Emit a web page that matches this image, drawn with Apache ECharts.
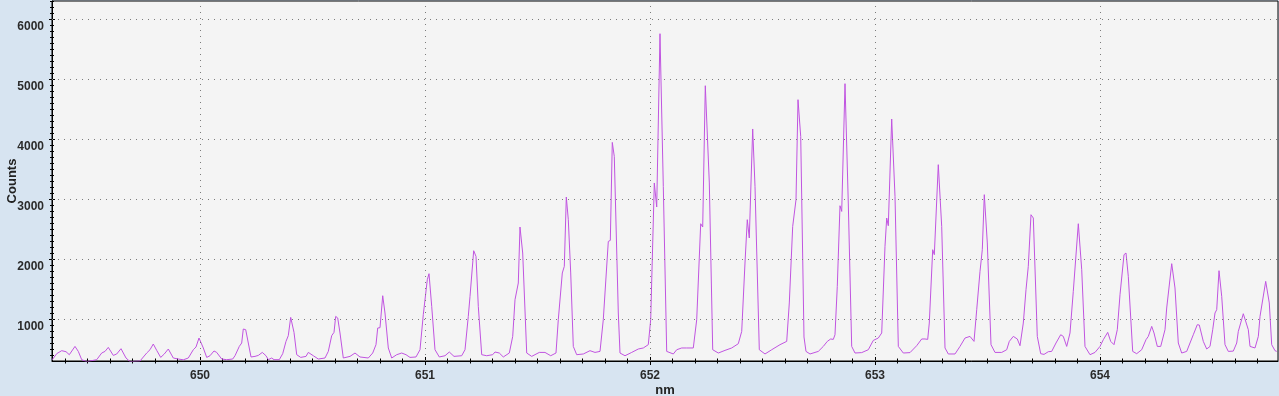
<!DOCTYPE html>
<html>
<head>
<meta charset="utf-8">
<script src="https://cdn.jsdelivr.net/npm/echarts@6/dist/echarts.min.js"></script>
<style>
html,body{margin:0;padding:0;background:#d7e4f1;}
#chart{width:1279px;height:396px;}
</style>
</head>
<body>
<div id="chart"></div>
<script>
// ---- data ----
const wavelengthNm = [
649.343,649.3453,649.3631,649.3853,649.4044,649.4191,649.4444,649.4591,649.4742,649.4964,
649.5409,649.5631,649.5778,649.5924,649.6147,649.6298,649.6489,649.6711,649.6889,649.7333,
649.7631,649.7778,649.7924,649.8076,649.8253,649.8413,649.8591,649.8813,649.9036,649.9258,
649.948,649.9702,649.9822,649.9956,650.0031,650.0147,650.0298,650.0444,650.0622,650.0742,
650.0964,650.1187,650.1453,650.1556,650.1747,650.1853,650.1924,650.2031,650.2147,650.2267,
650.2444,650.2591,650.2769,650.2933,650.3036,650.3187,650.3289,650.3524,650.3676,650.3822,
650.3924,650.4031,650.4178,650.4298,650.4476,650.4711,650.4813,650.5036,650.5258,650.5556,
650.5702,650.5853,650.5956,650.6031,650.612,650.6222,650.6369,650.6667,650.6889,650.7111,
650.748,650.7676,650.7822,650.7898,650.8,650.812,650.8222,650.8369,650.852,650.8742,
650.8964,650.9156,650.9333,650.96,650.9778,650.9924,651.0,651.0102,651.0178,651.0298,
651.0444,651.0636,651.0889,651.108,651.1289,651.1631,651.1778,651.1924,651.2,651.2076,
651.2164,651.2267,651.2369,651.252,651.2742,651.3009,651.3111,651.3302,651.348,651.3747,
651.3898,651.4,651.4147,651.4222,651.4342,651.452,651.4742,651.508,651.5333,651.5587,
651.5822,651.5924,651.6102,651.6191,651.628,651.6369,651.6476,651.6591,651.6742,651.7036,
651.7333,651.7556,651.7778,651.7924,651.8147,651.8236,651.8324,651.8413,651.8591,651.8667,
651.8889,651.9187,651.948,651.9702,651.9924,652.0031,652.0191,652.0298,652.0444,652.0591,
652.0742,652.1036,652.1187,652.1409,652.1631,652.1924,652.2076,652.2253,652.2342,652.2458,
652.2636,652.2787,652.3036,652.3333,652.3631,652.3924,652.4076,652.4222,652.4324,652.4413,
652.4564,652.4667,652.4858,652.5111,652.5409,652.5778,652.6076,652.6191,652.6342,652.6489,
652.6578,652.6698,652.6844,652.6933,652.7111,652.748,652.7702,652.788,652.8031,652.8147,
652.8222,652.8324,652.8444,652.852,652.8667,652.8813,652.8964,652.9111,652.9409,652.9702,
652.9924,653.0147,653.0298,653.0444,653.052,653.0591,653.0742,653.0889,653.1036,653.1258,
653.1556,653.1853,653.2076,653.2222,653.2342,653.2413,653.2564,653.2636,653.2813,653.2964,
653.3111,653.3258,653.3556,653.3778,653.4,653.4222,653.44,653.452,653.4667,653.4769,
653.4858,653.4991,653.5156,653.5333,653.5631,653.5853,653.5969,653.6147,653.6324,653.6444,
653.6591,653.6711,653.6813,653.6933,653.7036,653.7213,653.7364,653.7511,653.7702,653.7853,
653.8044,653.8253,653.8369,653.852,653.8667,653.8813,653.8889,653.9036,653.9187,653.9333,
653.9556,653.9778,654.0,654.0147,654.0342,654.0476,654.0622,654.0769,654.0889,654.0964,
654.1067,654.1156,654.1258,654.1453,654.1631,654.1853,654.2044,654.2147,654.2298,654.24,
654.2547,654.2698,654.2889,654.2964,654.3036,654.3187,654.3333,654.348,654.3631,654.3853,
654.4,654.4147,654.4324,654.4413,654.4591,654.4742,654.4889,654.5009,654.5111,654.5187,
654.5289,654.5409,654.5556,654.5702,654.5924,654.6076,654.6147,654.6222,654.6369,654.6444,
654.6591,654.6667,654.6889,654.7036,654.7111,654.7187,654.7364,654.7524,654.7631,654.7778,
654.7853
];
const counts = [
320,350,422,472,455,405,543,460,322,290,
322,433,460,527,393,417,505,350,290,300,
433,488,583,477,360,417,500,350,333,320,
350,488,533,683,658,517,360,388,467,443,
333,322,333,388,543,600,833,822,600,367,
377,393,443,388,322,350,322,322,422,627,
722,1027,777,405,360,377,443,388,333,350,
460,722,777,1043,1017,767,350,377,433,367,
350,433,572,850,855,1388,1100,517,350,405,
433,405,360,367,488,1072,1100,1655,1755,1210,
488,367,388,450,377,388,488,1043,1377,1377,
2138,2043,1210,405,388,405,450,433,367,433,
710,1322,1600,2533,2100,433,377,443,443,388,
433,988,1767,1877,3033,2655,1767,543,405,417,
472,443,460,988,2293,2310,3943,3710,1100,433,
388,443,500,517,572,988,3267,2867,5755,3210,
460,417,488,517,517,517,988,2588,2533,4888,
3267,488,433,477,517,588,793,1933,2655,2350,
4167,3210,488,417,488,572,627,1267,2543,2988,
4655,4043,700,460,417,460,543,627,667,660,
738,1543,2888,2793,4922,2933,543,433,440,488,
643,683,767,2210,2683,2555,4333,3043,543,433,
440,555,667,667,660,933,2155,2072,3572,2543,
517,417,417,543,683,710,627,1155,1793,2155,
3072,2267,572,443,443,488,627,710,667,555,
933,1488,1877,2738,2683,710,422,410,455,460,
600,738,710,543,767,1460,1488,2588,1822,543,
405,443,543,655,777,627,572,822,1405,1410,
2072,2100,1710,460,422,488,655,710,877,767,
543,543,822,1183,1200,1922,1517,600,433,460,
600,738,905,900,627,500,543,822,1100,1155,
1805,1377,572,460,465,600,793,800,1088,1072,
822,543,517,710,1043,1072,1627,1267,572,472,
460
];
const xMajorTicks = [650, 651, 652, 653, 654];
const yMajorTicks = [1000, 2000, 3000, 4000, 5000, 6000];
const xRange = [649.3422, 654.7911];
const yRange = [300, 6300];

// minor tick positions (0.1 nm and 100 counts)
const xMinorTicks = [];
for (let i = 6494; i <= 6547; i++) xMinorTicks.push(i / 10);
const yMinorTicks = [];
for (let v = 400; v <= 6300; v += 100) yMinorTicks.push(v);

const seriesData = wavelengthNm.map((x, i) => [x, counts[i]]);

const labelFont = { fontFamily: 'Liberation Sans', fontSize: 12, fontWeight: 'bold', color: '#2b2b2b' };
const black = { color: '#000', width: 1 };

function tickAxis(base, ticks, len, inside) {
  return {
    type: 'value', min: base[0], max: base[1],
    axisLine: { show: false },
    axisTick: { show: true, customValues: ticks, length: len, inside: inside, lineStyle: black },
    axisLabel: { show: false },
    splitLine: { show: false }
  };
}

const xAxes = [
  {
    type: 'value', min: xRange[0], max: xRange[1], position: 'bottom',
    axisLine: { show: true, onZero: false, lineStyle: black },
    axisTick: { show: true, customValues: xMajorTicks, length: 4, inside: false, lineStyle: black },
    axisLabel: Object.assign({ customValues: xMajorTicks, margin: 9, formatter: v => String(v) }, labelFont),
    splitLine: { show: false },
    name: 'nm', nameLocation: 'middle', nameGap: 23, nameMoveOverlap: false,
    nameTextStyle: { fontFamily: 'Liberation Sans', fontSize: 13, fontWeight: 'bold', color: '#222' }
  },
  Object.assign(tickAxis(xRange, xMajorTicks, 4, true), { position: 'bottom' }),
  Object.assign(tickAxis(xRange, xMinorTicks, 2.5, false), { position: 'bottom' }),
  Object.assign(tickAxis(xRange, xMinorTicks, 2.5, true), { position: 'bottom' })
];
const yAxes = [
  {
    type: 'value', min: yRange[0], max: yRange[1], position: 'left',
    axisLine: { show: true, onZero: false, lineStyle: black },
    axisTick: { show: true, customValues: yMajorTicks, length: 3, inside: false, lineStyle: black },
    axisLabel: Object.assign({ customValues: yMajorTicks, margin: 8, verticalAlign: 'top', padding: [2, 0, 0, 0], formatter: v => String(v) }, labelFont),
    splitLine: { show: false },
    name: 'Counts', nameLocation: 'middle', nameGap: 33, nameMoveOverlap: false,
    nameTextStyle: { fontFamily: 'Liberation Sans', fontSize: 13, fontWeight: 'bold', color: '#222' }
  },
  Object.assign(tickAxis(yRange, yMajorTicks, 3, true), { position: 'left' }),
  Object.assign(tickAxis(yRange, yMinorTicks, 2, false), { position: 'left' }),
  Object.assign(tickAxis(yRange, yMinorTicks, 2, true), { position: 'left' })
];

const chart = echarts.init(document.getElementById('chart'), null, { renderer: 'canvas' });
chart.setOption({
  animation: false,
  backgroundColor: '#d7e4f1',
  grid: {
    left: 52, right: 1, top: 1, bottom: 35,
    show: true, backgroundColor: '#f4f4f4', borderColor: '#000', borderWidth: 1,
    containLabel: false, outerBoundsMode: 'none'
  },
  xAxis: xAxes,
  yAxis: yAxes,
  series: [{
    type: 'line',
    xAxisIndex: 0, yAxisIndex: 0,
    data: seriesData,
    showSymbol: false, symbol: 'none',
    clip: true,
    lineStyle: { color: '#c054e0', width: 1 },
    itemStyle: { color: '#c054e0' },
    markLine: {
      silent: true, animation: false,
      symbol: ['none', 'none'],
      label: { show: false },
      lineStyle: { color: '#7c7c7c', type: [1, 5], width: 1 },
      emphasis: { disabled: true },
      data: xMajorTicks.map(v => ({ xAxis: v })).concat(yMajorTicks.map(v => ({ yAxis: v })))
    }
  }]
});
</script>
</body>
</html>
